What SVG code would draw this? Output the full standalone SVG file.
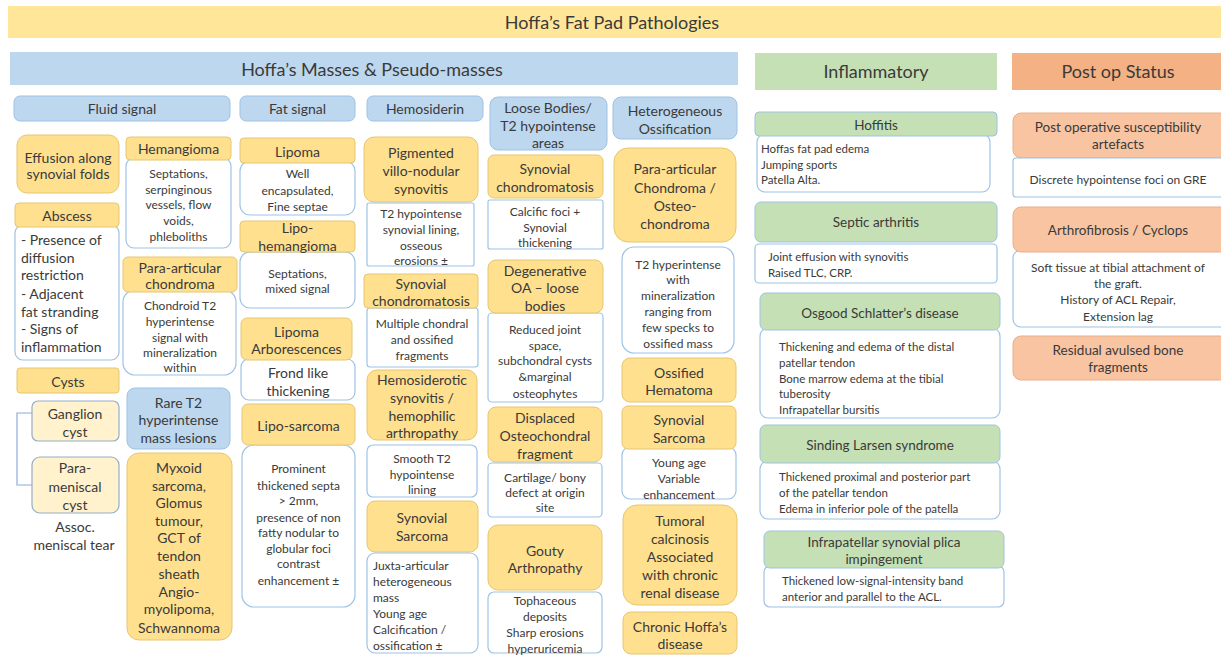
<svg xmlns="http://www.w3.org/2000/svg" width="1221" height="656" viewBox="0 0 1221 656">
<style>
text{font-family:Lato,"Open Sans","Liberation Sans",sans-serif;fill:#3a3a3a;dominant-baseline:central;text-anchor:middle}
.y{fill:#FFE08F;stroke:#E6C670;stroke-width:1}
.ly{fill:#FFF2CC;stroke:#93AEC9;stroke-width:1.2}
.b{fill:#BDD7EE;stroke:#9DC3E6;stroke-width:1}
.g{fill:#C5E0B4;stroke:#9DC3E6;stroke-width:1}
.o{fill:#F8C4A2;stroke:#E8B08C;stroke-width:1}
.w{fill:#fff;stroke:#9DC3E6;stroke-width:1.2}
.band{font-size:18px}
.h{font-size:14px}
.t{font-size:12px}
.a{font-size:14px;text-anchor:start}
.l{font-size:12px;text-anchor:start}
.s{font-size:11.5px;text-anchor:start}
.gh{font-size:13.5px}
.ot{font-size:12px}
.con{fill:none;stroke:#8FAADC;stroke-width:1.2}
</style>

<g id="title"><rect x="8" y="6" width="1213" height="32" fill="#FFE699"/><text class="band" x="612" y="22">Hoffa’s Fat Pad Pathologies</text></g>
<g id="masses"><rect x="10" y="52" width="728" height="33" fill="#BDD7EE"/><text class="band" x="372" y="69">Hoffa’s Masses &amp; Pseudo-masses</text></g>
<g id="inflammatory"><rect x="755" y="53" width="242" height="37" fill="#C5E0B4"/><text class="band" x="876" y="71">Inflammatory</text></g>
<g id="postop"><rect x="1012" y="53" width="209" height="37" fill="#F4B183"/><text class="band" x="1118" y="71">Post op Status</text></g>

<g id="connectors"><path class="con" d="M32,413 H17 V485 H32"/></g>

<!-- Fluid signal column -->
<g id="fluid-signal"><rect class="b" x="14" y="96" width="216" height="25" rx="6"/><text class="h" x="122" y="108.5">Fluid signal</text></g>
<g id="effusion"><rect class="y" x="17" y="135" width="102" height="58" rx="10"/><text class="h" x="68"><tspan x="68" y="157">Effusion along</tspan><tspan x="68" y="173">synovial folds</tspan></text></g>
<g id="hemangioma"><rect class="w" x="126" y="158" width="105" height="90" rx="8"/><rect class="y" x="126" y="137" width="105" height="23" rx="4"/><text class="h" x="178.5" y="148.5">Hemangioma</text>
<text class="t"><tspan x="178.5" y="173">Septations,</tspan><tspan x="178.5" y="189">serpinginous</tspan><tspan x="178.5" y="204">vessels,  flow</tspan><tspan x="178.5" y="220">voids,</tspan><tspan x="178.5" y="236">phleboliths</tspan></text></g>
<g id="abscess"><rect class="w" x="15" y="225" width="104" height="135" rx="8"/><rect class="y" x="15" y="203" width="104" height="24" rx="4"/><text class="h" x="67" y="215">Abscess</text>
<text class="a"><tspan x="21" y="239">- Presence of</tspan><tspan x="21" y="257">diffusion</tspan><tspan x="21" y="274">restriction</tspan><tspan x="21" y="293">- Adjacent</tspan><tspan x="21" y="311">fat stranding</tspan><tspan x="21" y="328">- Signs of</tspan><tspan x="21" y="346">inflammation</tspan></text></g>
<g id="para-articular-chondroma"><rect class="w" x="123" y="290" width="113" height="85" rx="12"/><rect class="y" x="123" y="257" width="114" height="35" rx="5"/><text class="h"><tspan x="180" y="267">Para-articular</tspan><tspan x="180" y="283">chondroma</tspan></text>
<text class="t"><tspan x="180" y="305">Chondroid T2</tspan><tspan x="180" y="321">hyperintense</tspan><tspan x="180" y="337">signal with</tspan><tspan x="180" y="352">mineralization</tspan><tspan x="180" y="367">within</tspan></text></g>
<g id="cysts"><rect class="y" x="17" y="368" width="102" height="25" rx="3"/><text class="h" x="68" y="381">Cysts</text></g>
<g id="ganglion-cyst"><rect class="ly" x="32" y="401" width="87" height="40" rx="6"/><text class="h"><tspan x="75" y="413">Ganglion</tspan><tspan x="75" y="431">cyst</tspan></text></g>
<g id="parameniscal-cyst"><rect class="ly" x="32" y="457" width="87" height="56" rx="8"/><text class="h"><tspan x="75" y="467">Para-</tspan><tspan x="75" y="486">meniscal</tspan><tspan x="75" y="504">cyst</tspan></text>
<text class="h"><tspan x="75" y="526">Assoc.</tspan><tspan x="74" y="544">meniscal tear</tspan></text></g>
<g id="rare-t2"><rect class="b" x="127" y="388" width="103" height="61" rx="8"/><text class="h"><tspan x="178.5" y="402">Rare T2</tspan><tspan x="178.5" y="419">hyperintense</tspan><tspan x="178.5" y="437">mass lesions</tspan></text></g>
<g id="rare-list"><rect class="y" x="127" y="453" width="105" height="187" rx="12"/><text class="h"><tspan x="179" y="467">Myxoid</tspan><tspan x="179" y="485">sarcoma,</tspan><tspan x="179" y="502">Glomus</tspan><tspan x="179" y="520">tumour,</tspan><tspan x="179" y="537">GCT of</tspan><tspan x="179" y="555">tendon</tspan><tspan x="179" y="573">sheath</tspan><tspan x="179" y="591">Angio-</tspan><tspan x="179" y="608">myolipoma,</tspan><tspan x="179" y="627">Schwannoma</tspan></text></g>

<!-- Fat signal column -->
<g id="fat-signal"><rect class="b" x="240" y="96" width="115" height="25" rx="6"/><text class="h" x="297.5" y="108.5">Fat signal</text></g>
<g id="lipoma"><rect class="w" x="240" y="161" width="115" height="54" rx="10"/><rect class="y" x="240" y="138" width="115" height="25" rx="4"/><text class="h" x="297.5" y="151">Lipoma</text>
<text class="t"><tspan x="297.5" y="173">Well</tspan><tspan x="297.5" y="190">encapsulated,</tspan><tspan x="297.5" y="206">Fine septae</tspan></text></g>
<g id="lipohemangioma"><rect class="w" x="240" y="252" width="115" height="56" rx="10"/><rect class="y" x="240" y="221" width="115" height="31" rx="4"/><text class="h"><tspan x="297.5" y="227">Lipo-</tspan><tspan x="297.5" y="245">hemangioma</tspan></text>
<text class="t"><tspan x="297.5" y="273">Septations,</tspan><tspan x="297.5" y="288">mixed signal</tspan></text></g>
<g id="lipoma-arborescences"><rect class="w" x="241" y="359" width="114" height="41" rx="8"/><rect class="y" x="241" y="318" width="111" height="42" rx="6"/><text class="h"><tspan x="296.5" y="331">Lipoma</tspan><tspan x="296.5" y="348">Arborescences</tspan></text>
<text class="h"><tspan x="298" y="372">Frond like</tspan><tspan x="298" y="390">thickening</tspan></text></g>
<g id="liposarcoma"><rect class="w" x="242" y="445" width="113" height="162" rx="12"/><rect class="y" x="242" y="404" width="113" height="41" rx="6"/><text class="h" x="298.5" y="425">Lipo-sarcoma</text>
<text class="t"><tspan x="298.5" y="468">Prominent</tspan><tspan x="298.5" y="485">thickened septa</tspan><tspan x="298.5" y="500">&gt; 2mm,</tspan><tspan x="298.5" y="517">presence of non</tspan><tspan x="298.5" y="532">fatty nodular to</tspan><tspan x="298.5" y="548">globular foci</tspan><tspan x="298.5" y="563">contrast</tspan><tspan x="298.5" y="580">enhancement ±</tspan></text></g>

<!-- Hemosiderin column -->
<g id="hemosiderin"><rect class="b" x="367" y="96" width="116" height="25" rx="6"/><text class="h" x="425" y="108.5">Hemosiderin</text></g>
<g id="pvns"><rect class="y" x="364" y="137" width="114" height="65" rx="10"/><text class="h"><tspan x="421" y="152">Pigmented</tspan><tspan x="421" y="170">villo-nodular</tspan><tspan x="421" y="188">synovitis</tspan></text>
<rect class="w" x="367" y="203" width="107" height="63" rx="2"/><text class="t"><tspan x="421" y="213">T2 hypointense</tspan><tspan x="421" y="229">synovial lining,</tspan><tspan x="421" y="245">osseous</tspan><tspan x="421" y="260">erosions  ±</tspan></text></g>
<g id="synovial-chondromatosis-h"><rect class="w" x="367" y="308" width="111" height="59" rx="3"/><rect class="y" x="364" y="274" width="114" height="34" rx="4"/><text class="h"><tspan x="421" y="283">Synovial</tspan><tspan x="421" y="300">chondromatosis</tspan></text>
<text class="t"><tspan x="422" y="323">Multiple chondral</tspan><tspan x="422" y="339">and ossified</tspan><tspan x="422" y="355">fragments</tspan></text></g>
<g id="hemosiderotic"><rect class="y" x="367" y="370" width="110" height="70" rx="10"/><text class="h"><tspan x="422" y="379">Hemosiderotic</tspan><tspan x="422" y="397">synovitis  /</tspan><tspan x="422" y="415">hemophilic</tspan><tspan x="422" y="432">arthropathy</tspan></text>
<rect class="w" x="367" y="445" width="110" height="52" rx="6"/><text class="t"><tspan x="422" y="458">Smooth T2</tspan><tspan x="422" y="474">hypointense</tspan><tspan x="422" y="489">lining</tspan></text></g>
<g id="synovial-sarcoma-h"><rect class="y" x="367" y="501" width="111" height="51" rx="8"/><text class="h"><tspan x="422" y="517">Synovial</tspan><tspan x="422" y="535">Sarcoma</tspan></text>
<rect class="w" x="367" y="553" width="111" height="100" rx="8"/><text class="l"><tspan x="373" y="565">Juxta-articular</tspan><tspan x="373" y="581">heterogeneous</tspan><tspan x="373" y="597">mass</tspan><tspan x="373" y="613">Young age</tspan><tspan x="373" y="629">Calcification /</tspan><tspan x="373" y="645">ossification ±</tspan></text></g>

<!-- Loose bodies column -->
<g id="loose-bodies"><rect class="b" x="490" y="97" width="117" height="53" rx="8"/><text class="h"><tspan x="548" y="107">Loose Bodies/</tspan><tspan x="548" y="125">T2 hypointense</tspan><tspan x="548" y="142">areas</tspan></text></g>
<g id="synovial-chondromatosis-l"><rect class="y" x="488" y="155" width="115" height="43" rx="6"/><text class="h"><tspan x="545" y="168">Synovial</tspan><tspan x="545" y="186">chondromatosis</tspan></text>
<rect class="w" x="488" y="200" width="115" height="49" rx="2"/><text class="t"><tspan x="545" y="211">Calcific foci +</tspan><tspan x="545" y="227">Synovial</tspan><tspan x="545" y="242">thickening</tspan></text></g>
<g id="degenerative-oa"><rect class="w" x="488" y="313" width="115" height="89" rx="4"/><rect class="y" x="488" y="260" width="115" height="53" rx="8"/><text class="h"><tspan x="545" y="270">Degenerative</tspan><tspan x="545" y="287">OA – loose</tspan><tspan x="545" y="305">bodies</tspan></text>
<text class="t"><tspan x="545" y="329">Reduced joint</tspan><tspan x="545" y="345">space,</tspan><tspan x="545" y="360">subchondral cysts</tspan><tspan x="545" y="376">&amp;marginal</tspan><tspan x="545" y="393">osteophytes</tspan></text></g>
<g id="displaced-fragment"><rect class="y" x="488" y="407" width="114" height="55" rx="8"/><text class="h"><tspan x="545" y="417">Displaced</tspan><tspan x="545" y="435">Osteochondral</tspan><tspan x="545" y="453">fragment</tspan></text>
<rect class="w" x="488" y="463" width="114" height="54" rx="4"/><text class="t"><tspan x="545" y="477">Cartilage/ bony</tspan><tspan x="545" y="492">defect at origin</tspan><tspan x="545" y="507">site</tspan></text></g>
<g id="gouty"><rect class="y" x="488" y="525" width="114" height="65" rx="10"/><text class="h"><tspan x="545" y="550">Gouty</tspan><tspan x="545" y="567">Arthropathy</tspan></text>
<rect class="w" x="488" y="592" width="114" height="61" rx="6"/><text class="t"><tspan x="545" y="600">Tophaceous</tspan><tspan x="545" y="616">deposits</tspan><tspan x="545" y="632">Sharp erosions</tspan><tspan x="545" y="648">hyperuricemia</tspan></text></g>

<!-- Heterogeneous ossification column -->
<g id="het-ossification"><rect class="b" x="613" y="97" width="124" height="42" rx="8"/><text class="h"><tspan x="675" y="110">Heterogeneous</tspan><tspan x="675" y="128">Ossification</tspan></text></g>
<g id="chondroma-osteochondroma"><rect class="y" x="614" y="148" width="122" height="94" rx="14"/><text class="h"><tspan x="675" y="168">Para-articular</tspan><tspan x="675" y="187">Chondroma /</tspan><tspan x="675" y="205">Osteo-</tspan><tspan x="675" y="223">chondroma</tspan></text>
<rect class="w" x="622" y="247" width="112" height="106" rx="12"/><text class="t"><tspan x="678" y="264">T2 hyperintense</tspan><tspan x="678" y="279">with</tspan><tspan x="678" y="295">mineralization</tspan><tspan x="678" y="311">ranging from</tspan><tspan x="678" y="327">few specks to</tspan><tspan x="678" y="343">ossified mass</tspan></text></g>
<g id="ossified-hematoma"><rect class="y" x="622" y="358" width="114" height="44" rx="8"/><text class="h"><tspan x="679" y="372">Ossified</tspan><tspan x="679" y="389">Hematoma</tspan></text></g>
<g id="synovial-sarcoma-o"><rect class="w" x="622" y="447" width="114" height="52" rx="8"/><rect class="y" x="622" y="406" width="114" height="43" rx="6"/><text class="h"><tspan x="679" y="419">Synovial</tspan><tspan x="679" y="437">Sarcoma</tspan></text>
<text class="t"><tspan x="679" y="462">Young age</tspan><tspan x="679" y="478">Variable</tspan><tspan x="679" y="494">enhancement</tspan></text></g>
<g id="tumoral-calcinosis"><rect class="y" x="623" y="505" width="114" height="100" rx="14"/><text class="h"><tspan x="680" y="520">Tumoral</tspan><tspan x="680" y="538">calcinosis</tspan><tspan x="680" y="556">Associated</tspan><tspan x="680" y="574">with chronic</tspan><tspan x="680" y="592">renal disease</tspan></text></g>
<g id="chronic-hoffa"><rect class="y" x="623" y="612" width="114" height="42" rx="8"/><text class="h"><tspan x="680" y="626">Chronic Hoffa’s</tspan><tspan x="680" y="643">disease</tspan></text></g>

<!-- Inflammatory column -->
<g id="hoffitis"><rect class="w" x="757" y="134" width="233" height="58" rx="8"/><rect class="g" x="755" y="112" width="242" height="24" rx="4"/><text class="gh" x="876" y="124.5">Hoffitis</text>
<text class="s"><tspan x="761" y="148">Hoffas fat pad edema</tspan><tspan x="761" y="164">Jumping sports</tspan><tspan x="761" y="179">Patella Alta.</tspan></text></g>
<g id="septic-arthritis"><rect class="g" x="755" y="202" width="242" height="40" rx="6"/><text class="gh" x="876" y="222">Septic arthritis</text>
<rect class="w" x="755" y="244" width="242" height="39" rx="4"/><text class="s"><tspan x="768" y="256">Joint effusion with synovitis</tspan><tspan x="768" y="272">Raised TLC, CRP.</tspan></text></g>
<g id="osgood"><rect class="w" x="760" y="328" width="240" height="90" rx="8"/><rect class="g" x="760" y="293" width="240" height="37" rx="6"/><text class="gh" x="880" y="313">Osgood Schlatter’s disease</text>
<text class="s"><tspan x="779" y="346">Thickening and edema of the distal</tspan><tspan x="779" y="362">patellar tendon</tspan><tspan x="779" y="378">Bone marrow edema at the tibial</tspan><tspan x="779" y="393">tuberosity</tspan><tspan x="779" y="409">Infrapatellar bursitis</tspan></text></g>
<g id="sinding-larsen"><rect class="w" x="760" y="461" width="240" height="58" rx="8"/><rect class="g" x="760" y="425" width="240" height="38" rx="6"/><text class="gh" x="880" y="445">Sinding Larsen syndrome</text>
<text class="s"><tspan x="779" y="476">Thickened proximal and posterior part</tspan><tspan x="779" y="492">of the patellar tendon</tspan><tspan x="779" y="508">Edema in inferior pole of the patella</tspan></text></g>
<g id="infrapatellar-plica"><rect class="w" x="764" y="566" width="240" height="41" rx="6"/><rect class="g" x="764" y="531" width="240" height="37" rx="6"/><text class="gh"><tspan x="884" y="542">Infrapatellar synovial plica</tspan><tspan x="884" y="559">impingement</tspan></text>
<text class="s"><tspan x="782" y="580">Thickened low-signal-intensity band</tspan><tspan x="782" y="596">anterior and parallel to the ACL.</tspan></text></g>

<!-- Post op column -->
<g id="susceptibility"><rect class="o" x="1013" y="113" width="215" height="45" rx="8"/><text class="gh"><tspan x="1118" y="127">Post operative susceptibility</tspan><tspan x="1118" y="144">artefacts</tspan></text>
<rect class="w" x="1013" y="158" width="215" height="39" rx="3"/><text class="ot" x="1118" y="179">Discrete hypointense foci on GRE</text></g>
<g id="arthrofibrosis"><rect class="w" x="1013" y="250" width="215" height="77" rx="8"/><rect class="o" x="1013" y="207" width="215" height="45" rx="8"/><text class="gh" x="1118" y="230">Arthrofibrosis / Cyclops</text>
<text class="ot"><tspan x="1118" y="267">Soft tissue at tibial attachment of</tspan><tspan x="1118" y="283">the graft.</tspan><tspan x="1118" y="299">History of ACL Repair,</tspan><tspan x="1118" y="316">Extension lag</tspan></text></g>
<g id="residual-fragments"><rect class="o" x="1013" y="336" width="215" height="44" rx="8"/><text class="gh"><tspan x="1118" y="350">Residual avulsed bone</tspan><tspan x="1118" y="367">fragments</tspan></text></g>
</svg>
